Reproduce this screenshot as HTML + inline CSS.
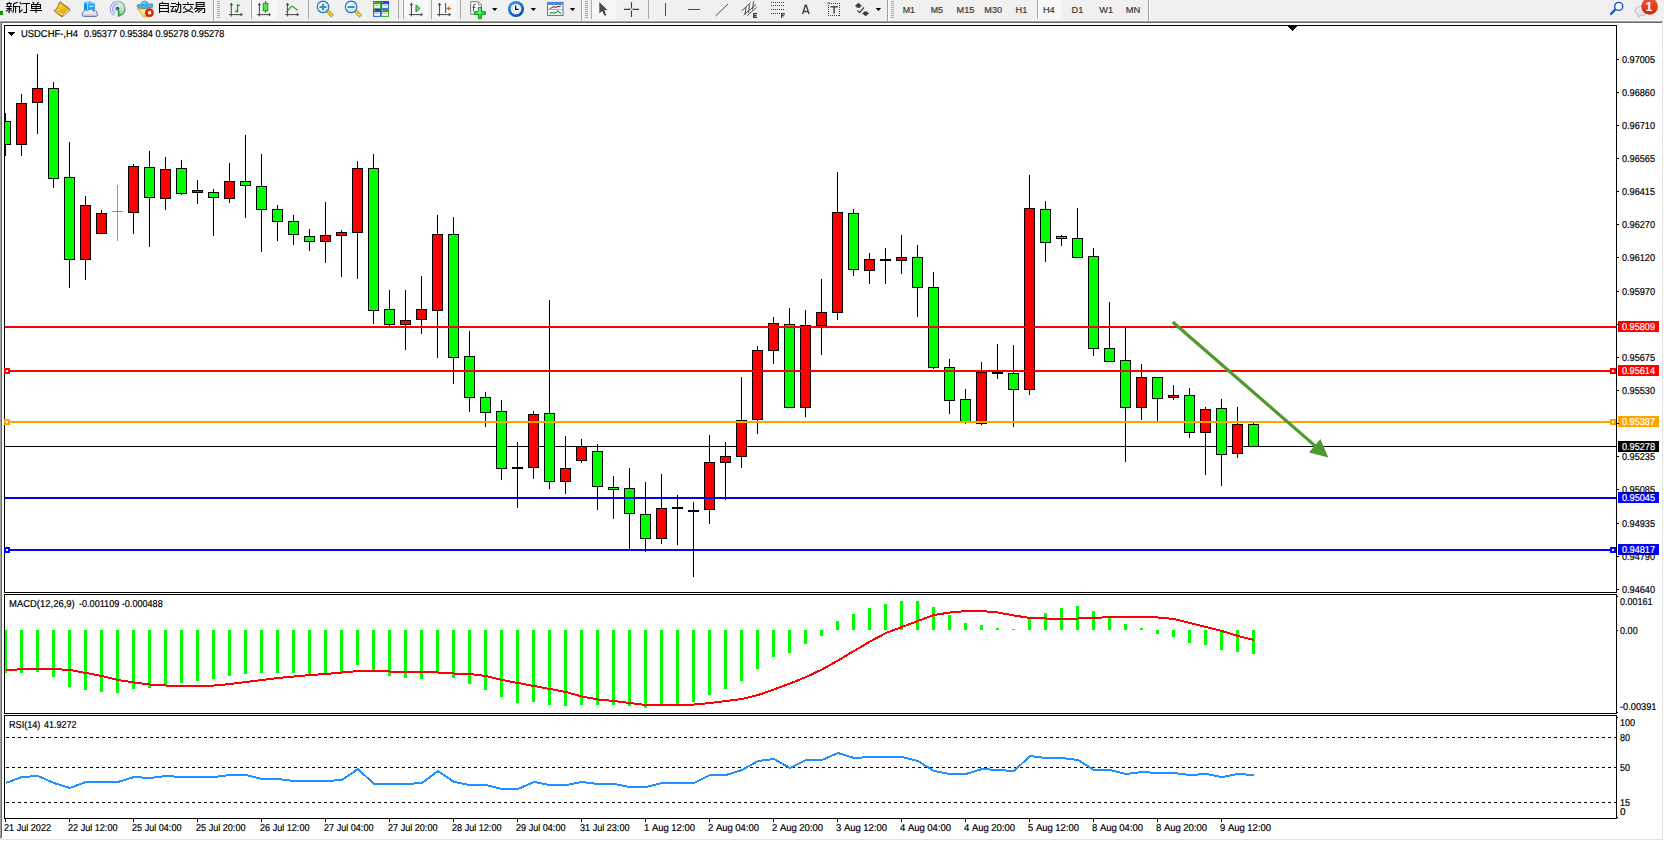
<!DOCTYPE html>
<html><head><meta charset="utf-8"><title>chart</title>
<style>
html,body{margin:0;padding:0;background:#fff;}
body{width:1664px;height:841px;position:relative;overflow:hidden;font-family:"Liberation Sans",sans-serif;}
.t{position:absolute;white-space:nowrap;line-height:13px;height:13px;transform-origin:0 0;text-rendering:geometricPrecision;-webkit-text-stroke:0.2px;}
svg{position:absolute;left:0;top:0;}
</style></head><body>
<svg width="1664" height="841" viewBox="0 0 1664 841" shape-rendering="crispEdges">
<defs><clipPath id="cm"><rect x="5" y="26" width="1611" height="566"/></clipPath></defs>
<rect x="0" y="0" width="1664" height="20" fill="#f0f0f0"/>
<rect x="0" y="20" width="1664" height="1" fill="#f6f6f6"/>
<rect x="0" y="21" width="1663" height="1" fill="#a0a0a0"/>
<rect x="0" y="22" width="1662" height="1" fill="#696969"/>
<rect x="0" y="22" width="1" height="817" fill="#a0a0a0"/>
<rect x="1" y="22" width="1" height="816" fill="#696969"/>
<rect x="1662" y="23" width="1" height="817" fill="#e3e3e3"/>
<rect x="1" y="839" width="1662" height="1" fill="#e3e3e3"/>
<rect x="4" y="25" width="1613" height="1" fill="#000"/>
<rect x="4" y="592" width="1613" height="1" fill="#000"/>
<rect x="4" y="25" width="1" height="568" fill="#000"/>
<rect x="1616" y="25" width="1" height="568" fill="#000"/>
<rect x="4" y="594" width="1613" height="1" fill="#000"/>
<rect x="4" y="713" width="1613" height="1" fill="#000"/>
<rect x="4" y="594" width="1" height="120" fill="#000"/>
<rect x="1616" y="594" width="1" height="120" fill="#000"/>
<rect x="4" y="715" width="1613" height="1" fill="#000"/>
<rect x="4" y="818" width="1613" height="1" fill="#000"/>
<rect x="4" y="715" width="1" height="104" fill="#000"/>
<rect x="1616" y="715" width="1" height="104" fill="#000"/>
<rect x="5" y="446" width="1611" height="1" fill="#000"/>
<rect x="1288" y="26" width="9" height="1" fill="#000"/>
<rect x="1289" y="27" width="7" height="1" fill="#000"/>
<rect x="1290" y="28" width="5" height="1" fill="#000"/>
<rect x="1291" y="29" width="3" height="1" fill="#000"/>
<rect x="1292" y="30" width="1" height="1" fill="#000"/>
<g clip-path="url(#cm)">
<rect x="5" y="113" width="1" height="43" fill="#000"/>
<rect x="0" y="121" width="11" height="24" fill="#000"/>
<rect x="1" y="122" width="9" height="22" fill="#00ff00"/>
<rect x="21" y="94" width="1" height="62" fill="#000"/>
<rect x="16" y="103" width="11" height="42" fill="#000"/>
<rect x="17" y="104" width="9" height="40" fill="#ff0000"/>
<rect x="37" y="54" width="1" height="80" fill="#000"/>
<rect x="32" y="88" width="11" height="15" fill="#000"/>
<rect x="33" y="89" width="9" height="13" fill="#ff0000"/>
<rect x="53" y="82" width="1" height="106" fill="#000"/>
<rect x="48" y="88" width="11" height="91" fill="#000"/>
<rect x="49" y="89" width="9" height="89" fill="#00ff00"/>
<rect x="69" y="142" width="1" height="146" fill="#000"/>
<rect x="64" y="177" width="11" height="83" fill="#000"/>
<rect x="65" y="178" width="9" height="81" fill="#00ff00"/>
<rect x="85" y="196" width="1" height="84" fill="#000"/>
<rect x="80" y="205" width="11" height="55" fill="#000"/>
<rect x="81" y="206" width="9" height="53" fill="#ff0000"/>
<rect x="101" y="210" width="1" height="24" fill="#000"/>
<rect x="96" y="213" width="11" height="21" fill="#000"/>
<rect x="97" y="214" width="9" height="19" fill="#ff0000"/>
<rect x="117" y="185" width="1" height="56" fill="#00ff00"/>
<rect x="112" y="211" width="11" height="1" fill="#00ff00"/>
<rect x="133" y="164" width="1" height="70" fill="#000"/>
<rect x="128" y="166" width="11" height="47" fill="#000"/>
<rect x="129" y="167" width="9" height="45" fill="#ff0000"/>
<rect x="149" y="151" width="1" height="96" fill="#000"/>
<rect x="144" y="167" width="11" height="31" fill="#000"/>
<rect x="145" y="168" width="9" height="29" fill="#00ff00"/>
<rect x="165" y="157" width="1" height="53" fill="#000"/>
<rect x="160" y="169" width="11" height="30" fill="#000"/>
<rect x="161" y="170" width="9" height="28" fill="#ff0000"/>
<rect x="181" y="160" width="1" height="35" fill="#000"/>
<rect x="176" y="168" width="11" height="26" fill="#000"/>
<rect x="177" y="169" width="9" height="24" fill="#00ff00"/>
<rect x="197" y="180" width="1" height="24" fill="#000"/>
<rect x="192" y="190" width="11" height="3" fill="#000"/>
<rect x="193" y="191" width="9" height="1" fill="#ff0000"/>
<rect x="213" y="189" width="1" height="47" fill="#000"/>
<rect x="208" y="192" width="11" height="6" fill="#000"/>
<rect x="209" y="193" width="9" height="4" fill="#00ff00"/>
<rect x="229" y="163" width="1" height="40" fill="#000"/>
<rect x="224" y="181" width="11" height="18" fill="#000"/>
<rect x="225" y="182" width="9" height="16" fill="#ff0000"/>
<rect x="245" y="135" width="1" height="83" fill="#000"/>
<rect x="240" y="181" width="11" height="5" fill="#000"/>
<rect x="241" y="182" width="9" height="3" fill="#00ff00"/>
<rect x="261" y="154" width="1" height="98" fill="#000"/>
<rect x="256" y="186" width="11" height="24" fill="#000"/>
<rect x="257" y="187" width="9" height="22" fill="#00ff00"/>
<rect x="277" y="205" width="1" height="36" fill="#000"/>
<rect x="272" y="209" width="11" height="13" fill="#000"/>
<rect x="273" y="210" width="9" height="11" fill="#00ff00"/>
<rect x="293" y="215" width="1" height="30" fill="#000"/>
<rect x="288" y="221" width="11" height="14" fill="#000"/>
<rect x="289" y="222" width="9" height="12" fill="#00ff00"/>
<rect x="309" y="229" width="1" height="22" fill="#000"/>
<rect x="304" y="236" width="11" height="6" fill="#000"/>
<rect x="305" y="237" width="9" height="4" fill="#00ff00"/>
<rect x="325" y="202" width="1" height="61" fill="#000"/>
<rect x="320" y="235" width="11" height="7" fill="#000"/>
<rect x="321" y="236" width="9" height="5" fill="#ff0000"/>
<rect x="341" y="230" width="1" height="47" fill="#000"/>
<rect x="336" y="232" width="11" height="4" fill="#000"/>
<rect x="337" y="233" width="9" height="2" fill="#ff0000"/>
<rect x="357" y="161" width="1" height="118" fill="#000"/>
<rect x="352" y="168" width="11" height="65" fill="#000"/>
<rect x="353" y="169" width="9" height="63" fill="#ff0000"/>
<rect x="373" y="154" width="1" height="170" fill="#000"/>
<rect x="368" y="168" width="11" height="143" fill="#000"/>
<rect x="369" y="169" width="9" height="141" fill="#00ff00"/>
<rect x="389" y="290" width="1" height="36" fill="#000"/>
<rect x="384" y="309" width="11" height="16" fill="#000"/>
<rect x="385" y="310" width="9" height="14" fill="#00ff00"/>
<rect x="405" y="290" width="1" height="60" fill="#000"/>
<rect x="400" y="320" width="11" height="5" fill="#000"/>
<rect x="401" y="321" width="9" height="3" fill="#ff0000"/>
<rect x="421" y="276" width="1" height="58" fill="#000"/>
<rect x="416" y="309" width="11" height="11" fill="#000"/>
<rect x="417" y="310" width="9" height="9" fill="#ff0000"/>
<rect x="437" y="215" width="1" height="143" fill="#000"/>
<rect x="432" y="234" width="11" height="77" fill="#000"/>
<rect x="433" y="235" width="9" height="75" fill="#ff0000"/>
<rect x="453" y="217" width="1" height="167" fill="#000"/>
<rect x="448" y="234" width="11" height="124" fill="#000"/>
<rect x="449" y="235" width="9" height="122" fill="#00ff00"/>
<rect x="469" y="331" width="1" height="81" fill="#000"/>
<rect x="464" y="356" width="11" height="42" fill="#000"/>
<rect x="465" y="357" width="9" height="40" fill="#00ff00"/>
<rect x="485" y="392" width="1" height="35" fill="#000"/>
<rect x="480" y="397" width="11" height="16" fill="#000"/>
<rect x="481" y="398" width="9" height="14" fill="#00ff00"/>
<rect x="501" y="400" width="1" height="80" fill="#000"/>
<rect x="496" y="411" width="11" height="58" fill="#000"/>
<rect x="497" y="412" width="9" height="56" fill="#00ff00"/>
<rect x="517" y="442" width="1" height="66" fill="#000"/>
<rect x="512" y="467" width="11" height="2" fill="#000"/>
<rect x="533" y="411" width="1" height="68" fill="#000"/>
<rect x="528" y="414" width="11" height="54" fill="#000"/>
<rect x="529" y="415" width="9" height="52" fill="#ff0000"/>
<rect x="549" y="300" width="1" height="189" fill="#000"/>
<rect x="544" y="413" width="11" height="69" fill="#000"/>
<rect x="545" y="414" width="9" height="67" fill="#00ff00"/>
<rect x="565" y="436" width="1" height="58" fill="#000"/>
<rect x="560" y="468" width="11" height="14" fill="#000"/>
<rect x="561" y="469" width="9" height="12" fill="#ff0000"/>
<rect x="581" y="439" width="1" height="24" fill="#000"/>
<rect x="576" y="446" width="11" height="15" fill="#000"/>
<rect x="577" y="447" width="9" height="13" fill="#ff0000"/>
<rect x="597" y="444" width="1" height="66" fill="#000"/>
<rect x="592" y="451" width="11" height="36" fill="#000"/>
<rect x="593" y="452" width="9" height="34" fill="#00ff00"/>
<rect x="613" y="476" width="1" height="43" fill="#000"/>
<rect x="608" y="487" width="11" height="3" fill="#000"/>
<rect x="609" y="488" width="9" height="1" fill="#00ff00"/>
<rect x="629" y="468" width="1" height="82" fill="#000"/>
<rect x="624" y="488" width="11" height="26" fill="#000"/>
<rect x="625" y="489" width="9" height="24" fill="#00ff00"/>
<rect x="645" y="482" width="1" height="70" fill="#000"/>
<rect x="640" y="514" width="11" height="25" fill="#000"/>
<rect x="641" y="515" width="9" height="23" fill="#00ff00"/>
<rect x="661" y="474" width="1" height="70" fill="#000"/>
<rect x="656" y="508" width="11" height="31" fill="#000"/>
<rect x="657" y="509" width="9" height="29" fill="#ff0000"/>
<rect x="677" y="495" width="1" height="50" fill="#000"/>
<rect x="672" y="507" width="11" height="2" fill="#000"/>
<rect x="693" y="502" width="1" height="75" fill="#000"/>
<rect x="688" y="510" width="11" height="2" fill="#000"/>
<rect x="709" y="435" width="1" height="89" fill="#000"/>
<rect x="704" y="462" width="11" height="48" fill="#000"/>
<rect x="705" y="463" width="9" height="46" fill="#ff0000"/>
<rect x="725" y="442" width="1" height="58" fill="#000"/>
<rect x="720" y="456" width="11" height="7" fill="#000"/>
<rect x="721" y="457" width="9" height="5" fill="#ff0000"/>
<rect x="741" y="377" width="1" height="91" fill="#000"/>
<rect x="736" y="420" width="11" height="37" fill="#000"/>
<rect x="737" y="421" width="9" height="35" fill="#ff0000"/>
<rect x="757" y="346" width="1" height="88" fill="#000"/>
<rect x="752" y="350" width="11" height="70" fill="#000"/>
<rect x="753" y="351" width="9" height="68" fill="#ff0000"/>
<rect x="773" y="317" width="1" height="47" fill="#000"/>
<rect x="768" y="323" width="11" height="28" fill="#000"/>
<rect x="769" y="324" width="9" height="26" fill="#ff0000"/>
<rect x="789" y="308" width="1" height="100" fill="#000"/>
<rect x="784" y="324" width="11" height="84" fill="#000"/>
<rect x="785" y="325" width="9" height="82" fill="#00ff00"/>
<rect x="805" y="310" width="1" height="107" fill="#000"/>
<rect x="800" y="325" width="11" height="83" fill="#000"/>
<rect x="801" y="326" width="9" height="81" fill="#ff0000"/>
<rect x="821" y="279" width="1" height="76" fill="#000"/>
<rect x="816" y="312" width="11" height="14" fill="#000"/>
<rect x="817" y="313" width="9" height="12" fill="#ff0000"/>
<rect x="837" y="172" width="1" height="148" fill="#000"/>
<rect x="832" y="212" width="11" height="101" fill="#000"/>
<rect x="833" y="213" width="9" height="99" fill="#ff0000"/>
<rect x="853" y="209" width="1" height="67" fill="#000"/>
<rect x="848" y="213" width="11" height="57" fill="#000"/>
<rect x="849" y="214" width="9" height="55" fill="#00ff00"/>
<rect x="869" y="253" width="1" height="31" fill="#000"/>
<rect x="864" y="259" width="11" height="12" fill="#000"/>
<rect x="865" y="260" width="9" height="10" fill="#ff0000"/>
<rect x="885" y="248" width="1" height="36" fill="#000"/>
<rect x="880" y="259" width="11" height="2" fill="#000"/>
<rect x="901" y="235" width="1" height="39" fill="#000"/>
<rect x="896" y="257" width="11" height="4" fill="#000"/>
<rect x="897" y="258" width="9" height="2" fill="#ff0000"/>
<rect x="917" y="245" width="1" height="72" fill="#000"/>
<rect x="912" y="257" width="11" height="31" fill="#000"/>
<rect x="913" y="258" width="9" height="29" fill="#00ff00"/>
<rect x="933" y="272" width="1" height="97" fill="#000"/>
<rect x="928" y="287" width="11" height="81" fill="#000"/>
<rect x="929" y="288" width="9" height="79" fill="#00ff00"/>
<rect x="949" y="359" width="1" height="55" fill="#000"/>
<rect x="944" y="367" width="11" height="34" fill="#000"/>
<rect x="945" y="368" width="9" height="32" fill="#00ff00"/>
<rect x="965" y="389" width="1" height="35" fill="#000"/>
<rect x="960" y="399" width="11" height="23" fill="#000"/>
<rect x="961" y="400" width="9" height="21" fill="#00ff00"/>
<rect x="981" y="362" width="1" height="63" fill="#000"/>
<rect x="976" y="372" width="11" height="52" fill="#000"/>
<rect x="977" y="373" width="9" height="50" fill="#ff0000"/>
<rect x="997" y="344" width="1" height="35" fill="#000"/>
<rect x="992" y="372" width="11" height="2" fill="#000"/>
<rect x="1013" y="345" width="1" height="82" fill="#000"/>
<rect x="1008" y="373" width="11" height="17" fill="#000"/>
<rect x="1009" y="374" width="9" height="15" fill="#00ff00"/>
<rect x="1029" y="175" width="1" height="220" fill="#000"/>
<rect x="1024" y="208" width="11" height="182" fill="#000"/>
<rect x="1025" y="209" width="9" height="180" fill="#ff0000"/>
<rect x="1045" y="201" width="1" height="61" fill="#000"/>
<rect x="1040" y="209" width="11" height="34" fill="#000"/>
<rect x="1041" y="210" width="9" height="32" fill="#00ff00"/>
<rect x="1061" y="235" width="1" height="11" fill="#000"/>
<rect x="1056" y="236" width="11" height="3" fill="#000"/>
<rect x="1057" y="237" width="9" height="1" fill="#00ff00"/>
<rect x="1077" y="208" width="1" height="50" fill="#000"/>
<rect x="1072" y="238" width="11" height="20" fill="#000"/>
<rect x="1073" y="239" width="9" height="18" fill="#00ff00"/>
<rect x="1093" y="248" width="1" height="108" fill="#000"/>
<rect x="1088" y="256" width="11" height="93" fill="#000"/>
<rect x="1089" y="257" width="9" height="91" fill="#00ff00"/>
<rect x="1109" y="302" width="1" height="60" fill="#000"/>
<rect x="1104" y="348" width="11" height="14" fill="#000"/>
<rect x="1105" y="349" width="9" height="12" fill="#00ff00"/>
<rect x="1125" y="328" width="1" height="134" fill="#000"/>
<rect x="1120" y="360" width="11" height="48" fill="#000"/>
<rect x="1121" y="361" width="9" height="46" fill="#00ff00"/>
<rect x="1141" y="364" width="1" height="56" fill="#000"/>
<rect x="1136" y="377" width="11" height="31" fill="#000"/>
<rect x="1137" y="378" width="9" height="29" fill="#ff0000"/>
<rect x="1157" y="377" width="1" height="44" fill="#000"/>
<rect x="1152" y="377" width="11" height="22" fill="#000"/>
<rect x="1153" y="378" width="9" height="20" fill="#00ff00"/>
<rect x="1173" y="385" width="1" height="15" fill="#000"/>
<rect x="1168" y="395" width="11" height="3" fill="#000"/>
<rect x="1169" y="396" width="9" height="1" fill="#ff0000"/>
<rect x="1189" y="388" width="1" height="50" fill="#000"/>
<rect x="1184" y="395" width="11" height="38" fill="#000"/>
<rect x="1185" y="396" width="9" height="36" fill="#00ff00"/>
<rect x="1205" y="407" width="1" height="68" fill="#000"/>
<rect x="1200" y="409" width="11" height="24" fill="#000"/>
<rect x="1201" y="410" width="9" height="22" fill="#ff0000"/>
<rect x="1221" y="399" width="1" height="87" fill="#000"/>
<rect x="1216" y="408" width="11" height="47" fill="#000"/>
<rect x="1217" y="409" width="9" height="45" fill="#00ff00"/>
<rect x="1237" y="407" width="1" height="51" fill="#000"/>
<rect x="1232" y="424" width="11" height="30" fill="#000"/>
<rect x="1233" y="425" width="9" height="28" fill="#ff0000"/>
<rect x="1253" y="423" width="1" height="23" fill="#000"/>
<rect x="1248" y="424" width="11" height="23" fill="#000"/>
<rect x="1249" y="425" width="9" height="21" fill="#00ff00"/>
</g>
<rect x="5" y="326" width="1611" height="2" fill="#ff0000"/>
<rect x="1618" y="321" width="41" height="11" fill="#ff0000"/>
<rect x="5" y="370" width="1611" height="2" fill="#ff0000"/>
<rect x="1618" y="365" width="41" height="11" fill="#ff0000"/>
<rect x="4" y="368" width="6" height="6" fill="#ff0000"/>
<rect x="6" y="370" width="2" height="2" fill="#fff"/>
<rect x="1610" y="368" width="6" height="6" fill="#ff0000"/>
<rect x="1612" y="370" width="2" height="2" fill="#fff"/>
<rect x="5" y="421" width="1611" height="2" fill="#ffa500"/>
<rect x="1618" y="416" width="41" height="11" fill="#ffa500"/>
<rect x="4" y="419" width="6" height="6" fill="#ffa500"/>
<rect x="6" y="421" width="2" height="2" fill="#fff"/>
<rect x="1610" y="419" width="6" height="6" fill="#ffa500"/>
<rect x="1612" y="421" width="2" height="2" fill="#fff"/>
<rect x="5" y="497" width="1611" height="2" fill="#0000ff"/>
<rect x="1618" y="492" width="41" height="11" fill="#0000ff"/>
<rect x="5" y="549" width="1611" height="2" fill="#0000ff"/>
<rect x="1618" y="544" width="41" height="11" fill="#0000ff"/>
<rect x="4" y="547" width="6" height="6" fill="#0000ff"/>
<rect x="6" y="549" width="2" height="2" fill="#fff"/>
<rect x="1610" y="547" width="6" height="6" fill="#0000ff"/>
<rect x="1612" y="549" width="2" height="2" fill="#fff"/>
<rect x="1617" y="59" width="2" height="1" fill="#000"/>
<rect x="1617" y="92" width="2" height="1" fill="#000"/>
<rect x="1617" y="125" width="2" height="1" fill="#000"/>
<rect x="1617" y="158" width="2" height="1" fill="#000"/>
<rect x="1617" y="191" width="2" height="1" fill="#000"/>
<rect x="1617" y="224" width="2" height="1" fill="#000"/>
<rect x="1617" y="257" width="2" height="1" fill="#000"/>
<rect x="1617" y="291" width="2" height="1" fill="#000"/>
<rect x="1617" y="324" width="2" height="1" fill="#000"/>
<rect x="1617" y="357" width="2" height="1" fill="#000"/>
<rect x="1617" y="390" width="2" height="1" fill="#000"/>
<rect x="1617" y="423" width="2" height="1" fill="#000"/>
<rect x="1617" y="456" width="2" height="1" fill="#000"/>
<rect x="1617" y="489" width="2" height="1" fill="#000"/>
<rect x="1617" y="523" width="2" height="1" fill="#000"/>
<rect x="1617" y="556" width="2" height="1" fill="#000"/>
<rect x="1617" y="589" width="2" height="1" fill="#000"/>
<rect x="1617" y="596" width="1" height="1" fill="#000"/>
<rect x="1617" y="630" width="1" height="1" fill="#000"/>
<rect x="1617" y="712" width="1" height="1" fill="#000"/>
<rect x="1617" y="717" width="1" height="1" fill="#000"/>
<rect x="1617" y="817" width="1" height="1" fill="#000"/>
<path d="M6 737.5 H1616" stroke="#000" stroke-width="1" stroke-dasharray="3 3" fill="none"/>
<path d="M6 767.5 H1616" stroke="#000" stroke-width="1" stroke-dasharray="3 3" fill="none"/>
<path d="M6 802.5 H1616" stroke="#000" stroke-width="1" stroke-dasharray="3 3" fill="none"/>
<rect x="5" y="630" width="2" height="43" fill="#00ff00"/>
<rect x="20" y="630" width="3" height="43" fill="#00ff00"/>
<rect x="36" y="630" width="3" height="42" fill="#00ff00"/>
<rect x="52" y="630" width="3" height="47" fill="#00ff00"/>
<rect x="68" y="630" width="3" height="57" fill="#00ff00"/>
<rect x="84" y="630" width="3" height="60" fill="#00ff00"/>
<rect x="100" y="630" width="3" height="62" fill="#00ff00"/>
<rect x="116" y="630" width="3" height="63" fill="#00ff00"/>
<rect x="132" y="630" width="3" height="59" fill="#00ff00"/>
<rect x="148" y="630" width="3" height="58" fill="#00ff00"/>
<rect x="164" y="630" width="3" height="56" fill="#00ff00"/>
<rect x="180" y="630" width="3" height="53" fill="#00ff00"/>
<rect x="196" y="630" width="3" height="51" fill="#00ff00"/>
<rect x="212" y="630" width="3" height="49" fill="#00ff00"/>
<rect x="228" y="630" width="3" height="46" fill="#00ff00"/>
<rect x="244" y="630" width="3" height="44" fill="#00ff00"/>
<rect x="260" y="630" width="3" height="43" fill="#00ff00"/>
<rect x="276" y="630" width="3" height="43" fill="#00ff00"/>
<rect x="292" y="630" width="3" height="43" fill="#00ff00"/>
<rect x="308" y="630" width="3" height="44" fill="#00ff00"/>
<rect x="324" y="630" width="3" height="44" fill="#00ff00"/>
<rect x="340" y="630" width="3" height="43" fill="#00ff00"/>
<rect x="356" y="630" width="3" height="35" fill="#00ff00"/>
<rect x="372" y="630" width="3" height="41" fill="#00ff00"/>
<rect x="388" y="630" width="3" height="46" fill="#00ff00"/>
<rect x="404" y="630" width="3" height="48" fill="#00ff00"/>
<rect x="420" y="630" width="3" height="49" fill="#00ff00"/>
<rect x="436" y="630" width="3" height="43" fill="#00ff00"/>
<rect x="452" y="630" width="3" height="48" fill="#00ff00"/>
<rect x="468" y="630" width="3" height="54" fill="#00ff00"/>
<rect x="484" y="630" width="3" height="60" fill="#00ff00"/>
<rect x="500" y="630" width="3" height="67" fill="#00ff00"/>
<rect x="516" y="630" width="3" height="73" fill="#00ff00"/>
<rect x="532" y="630" width="3" height="72" fill="#00ff00"/>
<rect x="548" y="630" width="3" height="75" fill="#00ff00"/>
<rect x="564" y="630" width="3" height="76" fill="#00ff00"/>
<rect x="580" y="630" width="3" height="75" fill="#00ff00"/>
<rect x="596" y="630" width="3" height="75" fill="#00ff00"/>
<rect x="612" y="630" width="3" height="75" fill="#00ff00"/>
<rect x="628" y="630" width="3" height="76" fill="#00ff00"/>
<rect x="644" y="630" width="3" height="78" fill="#00ff00"/>
<rect x="660" y="630" width="3" height="75" fill="#00ff00"/>
<rect x="676" y="630" width="3" height="75" fill="#00ff00"/>
<rect x="692" y="630" width="3" height="72" fill="#00ff00"/>
<rect x="708" y="630" width="3" height="65" fill="#00ff00"/>
<rect x="724" y="630" width="3" height="59" fill="#00ff00"/>
<rect x="740" y="630" width="3" height="51" fill="#00ff00"/>
<rect x="756" y="630" width="3" height="39" fill="#00ff00"/>
<rect x="772" y="630" width="3" height="27" fill="#00ff00"/>
<rect x="788" y="630" width="3" height="23" fill="#00ff00"/>
<rect x="804" y="630" width="3" height="14" fill="#00ff00"/>
<rect x="820" y="630" width="3" height="6" fill="#00ff00"/>
<rect x="836" y="621" width="3" height="9" fill="#00ff00"/>
<rect x="852" y="614" width="3" height="16" fill="#00ff00"/>
<rect x="868" y="608" width="3" height="22" fill="#00ff00"/>
<rect x="884" y="604" width="3" height="26" fill="#00ff00"/>
<rect x="900" y="601" width="3" height="29" fill="#00ff00"/>
<rect x="916" y="601" width="3" height="29" fill="#00ff00"/>
<rect x="932" y="607" width="3" height="23" fill="#00ff00"/>
<rect x="948" y="615" width="3" height="15" fill="#00ff00"/>
<rect x="964" y="623" width="3" height="7" fill="#00ff00"/>
<rect x="980" y="625" width="3" height="5" fill="#00ff00"/>
<rect x="996" y="628" width="3" height="2" fill="#00ff00"/>
<rect x="1012" y="629" width="3" height="1" fill="#00ff00"/>
<rect x="1028" y="619" width="3" height="11" fill="#00ff00"/>
<rect x="1044" y="613" width="3" height="17" fill="#00ff00"/>
<rect x="1060" y="608" width="3" height="22" fill="#00ff00"/>
<rect x="1076" y="606" width="3" height="24" fill="#00ff00"/>
<rect x="1092" y="611" width="3" height="19" fill="#00ff00"/>
<rect x="1108" y="616" width="3" height="14" fill="#00ff00"/>
<rect x="1124" y="624" width="3" height="6" fill="#00ff00"/>
<rect x="1140" y="628" width="3" height="2" fill="#00ff00"/>
<rect x="1156" y="630" width="3" height="4" fill="#00ff00"/>
<rect x="1172" y="630" width="3" height="7" fill="#00ff00"/>
<rect x="1188" y="630" width="3" height="13" fill="#00ff00"/>
<rect x="1204" y="630" width="3" height="15" fill="#00ff00"/>
<rect x="1220" y="630" width="3" height="20" fill="#00ff00"/>
<rect x="1236" y="630" width="3" height="22" fill="#00ff00"/>
<rect x="1252" y="630" width="3" height="24" fill="#00ff00"/>
<polyline points="6,670.5 22,669 38,669 54,669 70,670 86,673 102,676 118,680 134,682.5 150,684.5 166,685.5 182,685.5 198,685.5 214,685.5 230,684 246,682 262,680 278,678 294,676.5 310,675 326,674 342,672.5 358,671 374,671 390,671.5 406,672 422,672 438,672.5 454,673.5 470,674 486,676 502,680 518,683 534,686 550,689 566,692 582,696.5 598,699.5 614,701 630,703 646,705 662,705 678,705 694,704.5 710,703 726,701 742,699 758,695 774,689.5 790,683.5 806,677 822,669.5 838,660.5 854,651 870,641.5 886,633 902,627 918,621 934,615 950,612.5 966,611 982,611 998,612.5 1014,615.5 1030,618 1046,618.5 1062,619 1078,618.5 1094,618 1110,617 1126,617 1142,617 1158,617.5 1174,619 1190,623 1206,627 1222,631 1238,636 1254,640" stroke="#ff0000" stroke-width="2" fill="none"/>
<polyline points="6,783 22,777 38,776 54,783 70,788 86,782 102,782 118,782 134,777 150,778 166,776 182,777 198,777 214,777 230,775 246,775 262,779 278,779 294,781 310,781 326,781 342,780 358,769 374,784 390,784 406,784 422,783 438,771 454,782 470,785 486,785 502,789 518,789 534,782 550,785 566,785 582,782 598,784 614,784 630,787 646,787 662,783 678,783 694,783 710,775 726,775 742,770 758,761 774,759 790,768 806,760 822,760 838,753 854,758 870,757 886,757 902,757 918,761 934,771 950,774 966,774 982,769 998,770 1014,771 1030,756 1046,758 1062,758 1078,760 1094,770 1110,770 1126,774 1142,772 1158,773 1174,773 1190,775 1206,774 1222,777 1238,774 1254,775" stroke="#1e90ff" stroke-width="2" fill="none"/>
<rect x="5" y="819" width="1" height="3" fill="#000"/>
<rect x="69" y="819" width="1" height="3" fill="#000"/>
<rect x="133" y="819" width="1" height="3" fill="#000"/>
<rect x="197" y="819" width="1" height="3" fill="#000"/>
<rect x="261" y="819" width="1" height="3" fill="#000"/>
<rect x="325" y="819" width="1" height="3" fill="#000"/>
<rect x="389" y="819" width="1" height="3" fill="#000"/>
<rect x="453" y="819" width="1" height="3" fill="#000"/>
<rect x="517" y="819" width="1" height="3" fill="#000"/>
<rect x="581" y="819" width="1" height="3" fill="#000"/>
<rect x="645" y="819" width="1" height="3" fill="#000"/>
<rect x="709" y="819" width="1" height="3" fill="#000"/>
<rect x="773" y="819" width="1" height="3" fill="#000"/>
<rect x="837" y="819" width="1" height="3" fill="#000"/>
<rect x="901" y="819" width="1" height="3" fill="#000"/>
<rect x="965" y="819" width="1" height="3" fill="#000"/>
<rect x="1029" y="819" width="1" height="3" fill="#000"/>
<rect x="1093" y="819" width="1" height="3" fill="#000"/>
<rect x="1157" y="819" width="1" height="3" fill="#000"/>
<rect x="1221" y="819" width="1" height="3" fill="#000"/>
<rect x="1618" y="441" width="41" height="11" fill="#000"/>
<rect x="8" y="32" width="7" height="1" fill="#000"/>
<rect x="9" y="33" width="5" height="1" fill="#000"/>
<rect x="10" y="34" width="3" height="1" fill="#000"/>
<rect x="11" y="35" width="1" height="1" fill="#000"/>
<g shape-rendering="geometricPrecision"><line x1="1172.7" y1="322" x2="1316" y2="446.6" stroke="#4e9a2f" stroke-width="3.2"/><polygon points="1328.3,457.4 1320.4,439 1309,452.6" fill="#4e9a2f"/></g>
<defs>
<pattern id="chk" width="2" height="2" patternUnits="userSpaceOnUse"><rect width="2" height="2" fill="#f0f0f0"/><rect width="1" height="1" fill="#fff"/><rect x="1" y="1" width="1" height="1" fill="#fff"/></pattern>
<linearGradient id="gold" x1="0" y1="0" x2="1" y2="1"><stop offset="0" stop-color="#f8e27a"/><stop offset="0.5" stop-color="#e9b62e"/><stop offset="1" stop-color="#b07a10"/></linearGradient>
<linearGradient id="blu" x1="0" y1="0" x2="0" y2="1"><stop offset="0" stop-color="#49b4f8"/><stop offset="1" stop-color="#1670d8"/></linearGradient>
<radialGradient id="lens" cx="0.4" cy="0.35" r="0.7"><stop offset="0" stop-color="#f0fbff"/><stop offset="1" stop-color="#bce6f6"/></radialGradient>
<linearGradient id="redb" x1="0" y1="0" x2="0" y2="1"><stop offset="0" stop-color="#ea5a3a"/><stop offset="1" stop-color="#d8200c"/></linearGradient>
<linearGradient id="grn" x1="0" y1="0" x2="0" y2="1"><stop offset="0" stop-color="#5fd04a"/><stop offset="1" stop-color="#1e9a1e"/></linearGradient>
<linearGradient id="blb" x1="0" y1="0" x2="0" y2="1"><stop offset="0" stop-color="#1b3fc0"/><stop offset="1" stop-color="#3f74e8"/></linearGradient>
<linearGradient id="grb" x1="0" y1="0" x2="0" y2="1"><stop offset="0" stop-color="#2f9a16"/><stop offset="1" stop-color="#4fb82a"/></linearGradient>
<linearGradient id="gold2" x1="0.2" y1="0" x2="0.8" y2="1"><stop offset="0" stop-color="#fbe04a"/><stop offset="0.6" stop-color="#ecb822"/><stop offset="1" stop-color="#e0a418"/></linearGradient>
<linearGradient id="cloud" x1="0" y1="0" x2="0" y2="1"><stop offset="0" stop-color="#ffffff"/><stop offset="1" stop-color="#c4ccde"/></linearGradient>
<linearGradient id="sig" x1="0" y1="0" x2="0.3" y2="1"><stop offset="0" stop-color="#e6eee4"/><stop offset="0.55" stop-color="#b4d6ae"/><stop offset="1" stop-color="#4aa84a"/></linearGradient>
<linearGradient id="gold3" x1="0" y1="0" x2="1" y2="0.6"><stop offset="0" stop-color="#f2c83a"/><stop offset="0.5" stop-color="#fbe880"/><stop offset="1" stop-color="#e8b020"/></linearGradient>
<linearGradient id="clk" x1="0.2" y1="0" x2="0.8" y2="1"><stop offset="0" stop-color="#4a9cf4"/><stop offset="0.5" stop-color="#1a6cd4"/><stop offset="1" stop-color="#0a44a0"/></linearGradient>
<radialGradient id="plus" cx="0.4" cy="0.3" r="0.8"><stop offset="0" stop-color="#8cffa0"/><stop offset="0.5" stop-color="#10f038"/><stop offset="1" stop-color="#08c020"/></radialGradient>
</defs>
<g shape-rendering="geometricPrecision">
<rect x="0" y="11" width="3" height="4" fill="#0c9a0c"/><rect x="0" y="11" width="3" height="0.8" fill="#0a7a0a"/>
<g stroke="#000" stroke-width="1.05" fill="none" stroke-linecap="butt">
<path d="M8.9 1.9 L9.7 3.2"/>
<path d="M6.2 3.5 H11.8"/>
<path d="M7.2 4.2 L7.8 5.9"/>
<path d="M11 4.2 L10.4 5.9"/>
<path d="M5.9 6.5 H12.3"/>
<path d="M6.4 8.5 H11.8"/>
<path d="M9.2 6.5 V12.5 L8.3 12.1"/>
<path d="M8.6 9.3 L6.1 11.4"/>
<path d="M9.9 9.3 L11.7 11.1"/>
<path d="M17.6 2.3 L13.6 3.7"/>
<path d="M13.6 3.5 V9 Q13.5 11.4 12.7 12.7"/>
<path d="M13.6 6.5 H18.5"/>
<path d="M15.6 6.5 V12.7"/>
<path d="M19.7 2.1 L21.5 4.4"/>
<path d="M18.5 6.5 H19.6 V12.2 L22.5 9.6"/>
<path d="M22.3 3.5 H30"/>
<path d="M26.5 3.5 V12.5 H23.3"/>
<path d="M32.6 1.9 L34.1 4"/>
<path d="M38.7 1.9 L37.2 4"/>
<path d="M31.6 4.5 H40.5 V8.5 H31.6 Z"/>
<path d="M31.6 6.5 H40.5"/>
<path d="M36.1 4.5 V13.1"/>
<path d="M30.2 10.5 H42"/>
<path d="M162.9 1.8 L162.2 3.1"/>
<path d="M159.5 3.5 H168.3 V12.9 M159.5 3.5 V12.9"/>
<path d="M159.5 5.5 H168.3"/>
<path d="M159.5 8.5 H168.3"/>
<path d="M159.5 11.5 H168.3"/>
<path d="M171 3.5 H176"/>
<path d="M170.2 6.5 H177.2"/>
<path d="M173.8 6.5 L171.3 11.5 L176 10.9"/>
<path d="M175.3 8.6 L176.7 11.9"/>
<path d="M176 4.5 H180.7 V12.4 L178.5 12.4"/>
<path d="M178.5 1.8 V6 Q178.3 10 175.9 12.6"/>
<path d="M187.8 2 V3.8"/>
<path d="M182.6 4.5 H193.8"/>
<path d="M185.4 5.9 L183.1 8.5"/>
<path d="M190.4 5.9 L192.7 8.5"/>
<path d="M191.3 8.3 Q189 11 182.8 12.6"/>
<path d="M184.8 8.3 Q187.5 11 193.3 12.6"/>
<path d="M196.3 2.5 H204.1 V6.5 H196.3 Z"/>
<path d="M196.3 4.5 H204.1"/>
<path d="M196.7 7.3 L194 9.6"/>
<path d="M195.7 8.5 H204.6 V12.4 H202.3"/>
<path d="M199.7 8.7 L195 12"/>
<path d="M202.6 8.7 L197.9 12.6"/>
</g>
<path d="M59.4 2.2 L60.4 2 L69.2 8.4 L70 10.6 L61.9 16.9 L54.1 10.9 Q56.8 8.6 57.6 7 Z" fill="#b98a2a" stroke="#9a6608" stroke-width="0.8" stroke-linejoin="round"/>
<path d="M68.6 9.3 L69.6 10.8 L62.2 16.3 L63.4 13.9 Z" fill="#eadcaa"/>
<path d="M59.7 3 L68.4 9.1 L63.4 13.8 L55.3 10.3 Q57.4 8.6 58.2 7.2 Z" fill="url(#gold2)"/>
<path d="M55.6 10.5 L63.2 13.8 L62.2 15.4 L54.9 11.3 Z" fill="#f3d878"/>
<polygon points="84.1,1.9 90.6,1.3 95,3.4 87.5,4.1" fill="#6cc0fa"/>
<polygon points="84.1,1.9 87.5,4.1 87.5,11 84.1,10" fill="#0b8cf2"/>
<polygon points="87.5,4.1 95,3.4 95,10 87.5,11" fill="#2a9ff8"/>
<path d="M87.5 4.1 V10.6 M84.2 2 L87.5 4.1" stroke="#d8f0ff" stroke-width="0.6" fill="none"/>
<polygon points="89.2,5.9 93.8,5.4 93.8,6.4 89.2,6.9" fill="#eaf6ff"/>
<path d="M84.4 16.4 C81.6 16.4 81.2 12.6 83.6 12 C83.6 9.8 86.6 9.4 87.6 10.8 C88.8 8.6 92.4 8.8 93.2 11.2 C95 10 97.6 11.2 97 13.4 C98.4 14.4 97.6 16.4 95.8 16.4 Z" fill="url(#cloud)" stroke="#45639f" stroke-width="0.9"/>
<circle cx="117.7" cy="8.8" r="7.6" fill="#f3f3ef"/>
<path d="M117.7 0.9 A7.9 7.9 0 0 1 117.7 16.7 Z" fill="url(#sig)"/>
<g fill="none" stroke-width="1.1">
<path d="M117.7 1.4 a7.4 7.4 0 0 0 -3.2 14" stroke="#6f93e0" opacity="0.75"/><path d="M117.7 3.9 a4.9 4.9 0 0 0 -2.4 9.2" stroke="#5f86dc" opacity="0.8"/><path d="M117.7 6.2 a2.6 2.6 0 0 0 -1.4 4.8" stroke="#9ab4ea" opacity="0.7"/>
<path d="M117.7 1.4 a7.4 7.4 0 0 1 3 14.1" stroke="#7fa8a8" opacity="0.8"/><path d="M117.7 3.9 a4.9 4.9 0 0 1 2.4 9.2" stroke="#e8f2e4" opacity="0.9"/><path d="M117.7 6.2 a2.6 2.6 0 0 1 1.6 4.6" stroke="#eef6ea" opacity="0.9"/>
</g><circle cx="117.6" cy="8.6" r="1.8" fill="#2a58d4"/><path d="M118.6 9.2 V16.6" stroke="#22a022" stroke-width="1.3" fill="none"/>
<path d="M137.3 8.2 L152.7 7.4 L146.8 16.9 L143.4 16.6 Z" fill="url(#gold3)" stroke="#cf9a18" stroke-width="0.7" stroke-linejoin="round"/>
<path d="M137 6.2 C137 4.2 139.6 4.4 141 5 C141.2 2.4 142.4 1.2 144.6 1.2 C146.8 1.2 148 2.4 148.4 4.6 C150 3.6 153 3.4 153 5.2 C153 7.4 148.6 8.4 144.8 8.4 C141 8.4 137 7.8 137 6.2 Z" fill="#5ab2ea" stroke="#2484b8" stroke-width="0.8"/>
<path d="M141.6 5.4 Q144.6 6.6 148.2 5" stroke="#2a88c0" stroke-width="0.7" fill="none"/><path d="M142.6 3 Q144 1.8 146 2.4" stroke="#a8dcfa" stroke-width="0.9" fill="none"/>
<circle cx="149.4" cy="12.8" r="4" fill="#e2300e" stroke="#b82206" stroke-width="0.8"/><rect x="148" y="11.3" width="3" height="2.9" fill="#fff"/>
<rect x="213" y="0" width="1" height="21" fill="#a0a0a0" shape-rendering="crispEdges"/><rect x="214" y="0" width="1" height="21" fill="#fff" shape-rendering="crispEdges"/>
<rect x="217" y="1" width="3" height="1" fill="#a6a6a6" shape-rendering="crispEdges"/>
<rect x="217" y="3" width="3" height="1" fill="#a6a6a6" shape-rendering="crispEdges"/>
<rect x="217" y="5" width="3" height="1" fill="#a6a6a6" shape-rendering="crispEdges"/>
<rect x="217" y="7" width="3" height="1" fill="#a6a6a6" shape-rendering="crispEdges"/>
<rect x="217" y="9" width="3" height="1" fill="#a6a6a6" shape-rendering="crispEdges"/>
<rect x="217" y="11" width="3" height="1" fill="#a6a6a6" shape-rendering="crispEdges"/>
<rect x="217" y="13" width="3" height="1" fill="#a6a6a6" shape-rendering="crispEdges"/>
<rect x="217" y="15" width="3" height="1" fill="#a6a6a6" shape-rendering="crispEdges"/>
<rect x="217" y="17" width="3" height="1" fill="#a6a6a6" shape-rendering="crispEdges"/>
<g stroke="#505050" stroke-width="1.1" fill="#505050"><path d="M231.3 4 V16.5" fill="none"/><path d="M228.9 14.6 H241.8" fill="none"/><path d="M231.3 2.6 l-1.8 2.6 h3.6 Z" stroke="none"/><path d="M243.1 14.6 l-2.6 -1.8 v3.6 Z" stroke="none"/></g>
<path d="M237.5 4.3 V12.6 M237.5 5.4 H240 M235 11.4 H237.5" stroke="#159a15" stroke-width="1.3" fill="none"/>
<rect x="251" y="0" width="1" height="19" fill="#a8a8a8" shape-rendering="crispEdges"/>
<rect x="252" y="0" width="25" height="19" fill="url(#chk)" shape-rendering="crispEdges"/>
<g stroke="#505050" stroke-width="1.1" fill="#505050"><path d="M259.4 4 V16.5" fill="none"/><path d="M257 14.6 H269.9" fill="none"/><path d="M259.4 2.6 l-1.8 2.6 h3.6 Z" stroke="none"/><path d="M271.2 14.6 l-2.6 -1.8 v3.6 Z" stroke="none"/></g>
<path d="M265.5 1 V12.8" stroke="#159a15" stroke-width="1.2"/><rect x="263.2" y="3.4" width="4.6" height="7.4" fill="#55e055" stroke="#12a012" stroke-width="1"/>
<g stroke="#505050" stroke-width="1.1" fill="#505050"><path d="M287.5 4 V16.5" fill="none"/><path d="M285.1 14.6 H298" fill="none"/><path d="M287.5 2.6 l-1.8 2.6 h3.6 Z" stroke="none"/><path d="M299.3 14.6 l-2.6 -1.8 v3.6 Z" stroke="none"/></g>
<path d="M286.2 11.8 Q288.8 9.6 290.4 7.6 Q292 5.6 293.4 6.8 Q295.4 8.8 298 10.4" stroke="#2aa02a" stroke-width="1.1" fill="none"/>
<rect x="308" y="0" width="1" height="19" fill="#a8a8a8" shape-rendering="crispEdges"/>
<path d="M326.8 10.4 L332.6 16.3" stroke="#a87a10" stroke-width="3.4" stroke-linecap="butt"/><path d="M327 10.6 L332.3 16" stroke="#f2d84a" stroke-width="1.8" stroke-linecap="butt"/>
<circle cx="323" cy="6.9" r="5.8" fill="url(#lens)" stroke="#3474c4" stroke-width="1.2"/>
<path d="M319.5 7 H326.5" stroke="#4a8eb2" stroke-width="2"/>
<path d="M323 3.7 V10.3" stroke="#4a8eb2" stroke-width="2"/>
<path d="M354.9 10.4 L360.7 16.3" stroke="#a87a10" stroke-width="3.4" stroke-linecap="butt"/><path d="M355.1 10.6 L360.4 16" stroke="#f2d84a" stroke-width="1.8" stroke-linecap="butt"/>
<circle cx="351.1" cy="6.9" r="5.8" fill="url(#lens)" stroke="#3474c4" stroke-width="1.2"/>
<path d="M347.6 7 H354.6" stroke="#4a8eb2" stroke-width="2"/>
<rect x="373" y="1" width="8" height="8" fill="url(#grb)"/>
<rect x="374.2" y="4.2" width="5.8" height="3.6" fill="#fff"/><rect x="374" y="2" width="0.9" height="0.9" fill="#cfe6ff"/>
<rect x="375.2" y="5" width="3.6" height="0.9" fill="#3a9a2a" opacity="0.55"/>
<rect x="381" y="1" width="8" height="8" fill="url(#blb)"/>
<rect x="382.2" y="4.2" width="5.8" height="3.6" fill="#fff"/><rect x="382" y="2" width="0.9" height="0.9" fill="#cfe6ff"/>
<rect x="383.2" y="5" width="3.6" height="0.9" fill="#3058d0" opacity="0.55"/>
<rect x="373" y="9" width="8" height="8" fill="url(#blb)"/>
<rect x="374.2" y="12.2" width="5.8" height="3.6" fill="#fff"/><rect x="374" y="10" width="0.9" height="0.9" fill="#cfe6ff"/>
<rect x="375.2" y="13" width="3.6" height="0.9" fill="#3058d0" opacity="0.55"/>
<rect x="381" y="9" width="8" height="8" fill="url(#grb)"/>
<rect x="382.2" y="12.2" width="5.8" height="3.6" fill="#fff"/><rect x="382" y="10" width="0.9" height="0.9" fill="#cfe6ff"/>
<rect x="383.2" y="13" width="3.6" height="0.9" fill="#3a9a2a" opacity="0.55"/>
<rect x="398" y="0" width="1" height="19" fill="#a8a8a8" shape-rendering="crispEdges"/>
<rect x="403" y="0" width="1" height="19" fill="#a8a8a8" shape-rendering="crispEdges"/>
<rect x="404" y="0" width="24" height="19" fill="url(#chk)" shape-rendering="crispEdges"/>
<g stroke="#505050" stroke-width="1.1" fill="#505050"><path d="M411.4 4 V16.5" fill="none"/><path d="M409 14.6 H421.9" fill="none"/><path d="M411.4 2.6 l-1.8 2.6 h3.6 Z" stroke="none"/><path d="M423.2 14.6 l-2.6 -1.8 v3.6 Z" stroke="none"/></g>
<polygon points="416,5 416,12 420,8.5" fill="#7be07b" stroke="#149414" stroke-width="1"/>
<rect x="431" y="0" width="1" height="19" fill="#a8a8a8" shape-rendering="crispEdges"/>
<rect x="432" y="0" width="24" height="19" fill="url(#chk)" shape-rendering="crispEdges"/>
<g stroke="#505050" stroke-width="1.1" fill="#505050"><path d="M439.5 4 V16.5" fill="none"/><path d="M437.1 14.6 H450" fill="none"/><path d="M439.5 2.6 l-1.8 2.6 h3.6 Z" stroke="none"/><path d="M451.3 14.6 l-2.6 -1.8 v3.6 Z" stroke="none"/></g>
<path d="M445.6 3 V13" stroke="#1c6fb0" stroke-width="1.2"/><path d="M446.6 8.5 H451" stroke="#e05a10" stroke-width="1.1"/><polygon points="446.4,8.5 449.4,6.2 449.4,10.8" fill="#e05a10"/>
<rect x="460" y="0" width="1" height="19" fill="#a8a8a8" shape-rendering="crispEdges"/>
<path d="M470.7 1.7 H478.4 L481.4 4.8 V14.3 H470.7 Z" fill="#fdfdfd" stroke="#737373" stroke-width="0.95" stroke-linejoin="round"/><path d="M478.4 1.7 V4.8 H481.4" fill="#d8d8d8" stroke="#858585" stroke-width="0.8"/>
<path d="M475.6 4 Q473.5 4.2 473.5 6 V11.4 M472.6 7.4 H475.4" stroke="#3a3420" stroke-width="0.9" fill="none"/>
<path d="M478.4 7.5 H481.4 V11.6 H485.4 V14.3 H481.4 V18.6 H478.4 V14.3 H474.5 V11.6 H478.4 Z" fill="url(#plus)" stroke="#0a8a0a" stroke-width="0.9" stroke-linejoin="miter"/>
<polygon points="492,8 497.4,8 494.7,11" fill="#000"/>
<circle cx="516" cy="9" r="8.1" fill="url(#clk)"/><circle cx="516" cy="9" r="5.5" fill="#f2f5f8"/><circle cx="516" cy="9" r="5.5" fill="none" stroke="#0d4a9c" stroke-width="0.5" opacity="0.6"/>
<path d="M515.6 5.6 V9.3 H518.6" stroke="#111" stroke-width="1.2" fill="none"/><path d="M516 12.4 v0.9 M512 9 h0.9 M519.4 9 h0.8 M516 4.6 v0.7 M513.2 6.2 l0.5 0.5 M518.8 6.2 l-0.5 0.5 M513.2 11.8 l0.5 -0.5 M518.8 11.8 l-0.5 -0.5" stroke="#8aa8c8" stroke-width="0.7"/>
<polygon points="530.6,8 536,8 533.3,11" fill="#000"/>
<rect x="547.6" y="2.4" width="15.4" height="13" fill="#fff" stroke="#3a72c8" stroke-width="1"/><rect x="548" y="2.8" width="14.6" height="2.2" fill="#4a8ae0"/><path d="M548 9.6 H562.6" stroke="#6a9ae0" stroke-width="0.8"/>
<path d="M549.5 8.2 L551.5 8 L553.5 6.6 L555.5 7.4 L557.5 6.8 L559.5 6.4 L561 6.2" stroke="#a02810" stroke-width="1.1" fill="none"/>
<path d="M549.8 13.4 L552 12.4 L554 13.2 L556 12.2 L558 11 L559.6 12.6 L561 13.4" stroke="#1a9a1a" stroke-width="1.1" fill="none"/>
<polygon points="569.8,8 575.2,8 572.5,11" fill="#000"/>
<rect x="581" y="0" width="1" height="21" fill="#a0a0a0" shape-rendering="crispEdges"/><rect x="582" y="0" width="1" height="21" fill="#fff" shape-rendering="crispEdges"/>
<rect x="585" y="1" width="3" height="1" fill="#a6a6a6" shape-rendering="crispEdges"/>
<rect x="585" y="3" width="3" height="1" fill="#a6a6a6" shape-rendering="crispEdges"/>
<rect x="585" y="5" width="3" height="1" fill="#a6a6a6" shape-rendering="crispEdges"/>
<rect x="585" y="7" width="3" height="1" fill="#a6a6a6" shape-rendering="crispEdges"/>
<rect x="585" y="9" width="3" height="1" fill="#a6a6a6" shape-rendering="crispEdges"/>
<rect x="585" y="11" width="3" height="1" fill="#a6a6a6" shape-rendering="crispEdges"/>
<rect x="585" y="13" width="3" height="1" fill="#a6a6a6" shape-rendering="crispEdges"/>
<rect x="585" y="15" width="3" height="1" fill="#a6a6a6" shape-rendering="crispEdges"/>
<rect x="585" y="17" width="3" height="1" fill="#a6a6a6" shape-rendering="crispEdges"/>
<rect x="591" y="0" width="1" height="19" fill="#a8a8a8" shape-rendering="crispEdges"/>
<rect x="592" y="0" width="24" height="19" fill="url(#chk)" shape-rendering="crispEdges"/>
<polygon points="599.3,2 599.3,13.6 602.2,11 604.4,15.8 606.4,14.9 604.2,10.2 607.6,10.2" fill="#4c4c4c"/>
<path d="M631.5 2.2 V8.4 M631.5 10.4 V17 M624 9.4 H630.5 M632.5 9.4 H639" stroke="#3c3c3c" stroke-width="1.1" fill="none"/>
<rect x="648" y="0" width="1" height="19" fill="#a8a8a8" shape-rendering="crispEdges"/>
<path d="M665.5 3 V16" stroke="#484848" stroke-width="1"/>
<path d="M688.2 9.5 H700" stroke="#484848" stroke-width="1"/>
<path d="M715.6 16 L728 4" stroke="#484848" stroke-width="0.95"/>
<g stroke="#3c3c3c" stroke-width="0.9" fill="none"><path d="M741.6 11 L750.6 2.6"/><path d="M743.6 15 L756 4.6"/><path d="M747.2 15.6 L756.6 7.4"/><path d="M746 7 L745 14.6 M749.4 4.6 L748.6 13 M753.6 1.4 L752.4 9.6"/></g>
<path d="M757 13.7 H753.7 V17.3 H757 M753.7 15.5 H756.6" stroke="#3c3c3c" stroke-width="1.25" fill="none"/>
<path d="M771 2.5 H784.2" stroke="#3c3c3c" stroke-width="1" stroke-dasharray="1 1" fill="none" shape-rendering="crispEdges"/>
<path d="M771 5.5 H784.2" stroke="#3c3c3c" stroke-width="1" stroke-dasharray="1 1" fill="none" shape-rendering="crispEdges"/>
<path d="M771 9.5 H784.2" stroke="#3c3c3c" stroke-width="1" stroke-dasharray="1 1" fill="none" shape-rendering="crispEdges"/>
<path d="M771 13.5 H780" stroke="#3c3c3c" stroke-width="1" stroke-dasharray="1 1" fill="none" shape-rendering="crispEdges"/>
<path d="M784.9 13.7 H781.7 V17.9 M781.7 15.7 H784.4" stroke="#3c3c3c" stroke-width="1.25" fill="none"/>
<path d="M802.6 14 L805.4 5.2 H806.2 L809 14 M803.7 11.4 H807.9" stroke="#444" stroke-width="1.45" fill="none" stroke-linejoin="miter"/>
<rect x="828.5" y="3.5" width="11" height="12" fill="none" stroke="#3c3c3c" stroke-width="1" stroke-dasharray="1 1" shape-rendering="crispEdges"/><rect x="827.6" y="2.4" width="1.8" height="1.2" fill="#3c3c3c"/>
<path d="M830.4 6.8 H837.8 M834.1 6.8 V13.8" stroke="#4a4a4a" stroke-width="1.5" fill="none"/>
<polygon points="858.4,2.8 862.2,6.2 860.4,6.2 860.4,7.7 856.4,7.7 856.4,6.2 854.6,6.2" fill="#3c3c3c"/><polygon points="865.6,16.3 869.4,12.9 867.6,12.9 867.6,11.4 863.6,11.4 863.6,12.9 861.8,12.9" fill="#3c3c3c"/><path d="M857.4 10.4 L859.6 12.6 L864 7.4" stroke="#3c3c3c" stroke-width="1.3" fill="none"/>
<polygon points="875.7,8 881.1,8 878.4,11" fill="#000"/>
<rect x="887" y="0" width="1" height="21" fill="#a0a0a0" shape-rendering="crispEdges"/><rect x="888" y="0" width="1" height="21" fill="#fff" shape-rendering="crispEdges"/>
<rect x="891" y="1" width="3" height="1" fill="#a6a6a6" shape-rendering="crispEdges"/>
<rect x="891" y="3" width="3" height="1" fill="#a6a6a6" shape-rendering="crispEdges"/>
<rect x="891" y="5" width="3" height="1" fill="#a6a6a6" shape-rendering="crispEdges"/>
<rect x="891" y="7" width="3" height="1" fill="#a6a6a6" shape-rendering="crispEdges"/>
<rect x="891" y="9" width="3" height="1" fill="#a6a6a6" shape-rendering="crispEdges"/>
<rect x="891" y="11" width="3" height="1" fill="#a6a6a6" shape-rendering="crispEdges"/>
<rect x="891" y="13" width="3" height="1" fill="#a6a6a6" shape-rendering="crispEdges"/>
<rect x="891" y="15" width="3" height="1" fill="#a6a6a6" shape-rendering="crispEdges"/>
<rect x="891" y="17" width="3" height="1" fill="#a6a6a6" shape-rendering="crispEdges"/>
<rect x="1037" y="0" width="1" height="19" fill="#a8a8a8" shape-rendering="crispEdges"/>
<rect x="1038" y="0" width="24" height="19" fill="url(#chk)" shape-rendering="crispEdges"/>
<text x="902.7" y="13" font-family="Liberation Sans,sans-serif" font-size="9.8" fill="#383838" stroke="#383838" stroke-width="0.2" textLength="12.3" lengthAdjust="spacingAndGlyphs">M1</text>
<text x="930.7" y="13" font-family="Liberation Sans,sans-serif" font-size="9.8" fill="#383838" stroke="#383838" stroke-width="0.2" textLength="12.4" lengthAdjust="spacingAndGlyphs">M5</text>
<text x="956.5" y="13" font-family="Liberation Sans,sans-serif" font-size="9.8" fill="#383838" stroke="#383838" stroke-width="0.2" textLength="17.9" lengthAdjust="spacingAndGlyphs">M15</text>
<text x="984.3" y="13" font-family="Liberation Sans,sans-serif" font-size="9.8" fill="#383838" stroke="#383838" stroke-width="0.2" textLength="17.8" lengthAdjust="spacingAndGlyphs">M30</text>
<text x="1015.6" y="13" font-family="Liberation Sans,sans-serif" font-size="9.8" fill="#383838" stroke="#383838" stroke-width="0.2" textLength="11.7" lengthAdjust="spacingAndGlyphs">H1</text>
<text x="1042.9" y="13" font-family="Liberation Sans,sans-serif" font-size="9.8" fill="#383838" stroke="#383838" stroke-width="0.2" textLength="11.9" lengthAdjust="spacingAndGlyphs">H4</text>
<text x="1071.5" y="13" font-family="Liberation Sans,sans-serif" font-size="9.8" fill="#383838" stroke="#383838" stroke-width="0.2" textLength="11.9" lengthAdjust="spacingAndGlyphs">D1</text>
<text x="1099.3" y="13" font-family="Liberation Sans,sans-serif" font-size="9.8" fill="#383838" stroke="#383838" stroke-width="0.2" textLength="13.9" lengthAdjust="spacingAndGlyphs">W1</text>
<text x="1125.7" y="13" font-family="Liberation Sans,sans-serif" font-size="9.8" fill="#383838" stroke="#383838" stroke-width="0.2" textLength="14.6" lengthAdjust="spacingAndGlyphs">MN</text>
<rect x="1148" y="0" width="1" height="21" fill="#a0a0a0" shape-rendering="crispEdges"/><rect x="1149" y="0" width="1" height="21" fill="#fff" shape-rendering="crispEdges"/>
<path d="M1615.2 9.6 L1611 14" stroke="#1c50c8" stroke-width="2.2" stroke-linecap="round"/><circle cx="1618.7" cy="6.4" r="4" fill="#f6f8ff" stroke="#1c50c8" stroke-width="1.4"/>
<path d="M1641.2 6.2 C1645 6.2 1647.4 8.2 1647.4 10.9 C1647.4 13.6 1645 15.4 1641.6 15.4 L1640.2 15.3 L1638.4 17.6 L1638.2 14.8 C1636.2 14 1635.1 12.6 1635.1 10.9 C1635.1 8.2 1637.6 6.2 1641.2 6.2 Z" fill="#e6e7f1" stroke="#aaa" stroke-width="0.8"/>
<circle cx="1649.6" cy="6.4" r="8.3" fill="url(#redb)"/>
<text x="1645.4" y="11.2" font-family="Liberation Sans,sans-serif" font-size="12.5" font-weight="bold" fill="#fff">1</text>
</g>
</svg>
<div class="t" style="left:1622px;top:320.5px;color:#fff;font-size:10px;transform:scaleX(0.9130);">0.95809</div>
<div class="t" style="left:1622px;top:364.5px;color:#fff;font-size:10px;transform:scaleX(0.9130);">0.95614</div>
<div class="t" style="left:1622px;top:415.5px;color:#fff;font-size:10px;transform:scaleX(0.9130);">0.95387</div>
<div class="t" style="left:1622px;top:491.5px;color:#fff;font-size:10px;transform:scaleX(0.9130);">0.95045</div>
<div class="t" style="left:1622px;top:543.5px;color:#fff;font-size:10px;transform:scaleX(0.9130);">0.94817</div>
<div class="t" style="left:4px;top:821.5px;color:#000;font-size:10px;transform:scaleX(0.9090);">21&nbsp;Jul&nbsp;2022</div>
<div class="t" style="left:68px;top:821.5px;color:#000;font-size:10px;transform:scaleX(0.9085);">22&nbsp;Jul&nbsp;12:00</div>
<div class="t" style="left:132px;top:821.5px;color:#000;font-size:10px;transform:scaleX(0.9085);">25&nbsp;Jul&nbsp;04:00</div>
<div class="t" style="left:196px;top:821.5px;color:#000;font-size:10px;transform:scaleX(0.9085);">25&nbsp;Jul&nbsp;20:00</div>
<div class="t" style="left:260px;top:821.5px;color:#000;font-size:10px;transform:scaleX(0.9085);">26&nbsp;Jul&nbsp;12:00</div>
<div class="t" style="left:324px;top:821.5px;color:#000;font-size:10px;transform:scaleX(0.9085);">27&nbsp;Jul&nbsp;04:00</div>
<div class="t" style="left:388px;top:821.5px;color:#000;font-size:10px;transform:scaleX(0.9085);">27&nbsp;Jul&nbsp;20:00</div>
<div class="t" style="left:452px;top:821.5px;color:#000;font-size:10px;transform:scaleX(0.9085);">28&nbsp;Jul&nbsp;12:00</div>
<div class="t" style="left:516px;top:821.5px;color:#000;font-size:10px;transform:scaleX(0.9085);">29&nbsp;Jul&nbsp;04:00</div>
<div class="t" style="left:580px;top:821.5px;color:#000;font-size:10px;transform:scaleX(0.9085);">31&nbsp;Jul&nbsp;23:00</div>
<div class="t" style="left:644px;top:821.5px;color:#000;font-size:10px;transform:scaleX(0.9461);">1&nbsp;Aug&nbsp;12:00</div>
<div class="t" style="left:708px;top:821.5px;color:#000;font-size:10px;transform:scaleX(0.9461);">2&nbsp;Aug&nbsp;04:00</div>
<div class="t" style="left:772px;top:821.5px;color:#000;font-size:10px;transform:scaleX(0.9461);">2&nbsp;Aug&nbsp;20:00</div>
<div class="t" style="left:836px;top:821.5px;color:#000;font-size:10px;transform:scaleX(0.9461);">3&nbsp;Aug&nbsp;12:00</div>
<div class="t" style="left:900px;top:821.5px;color:#000;font-size:10px;transform:scaleX(0.9461);">4&nbsp;Aug&nbsp;04:00</div>
<div class="t" style="left:964px;top:821.5px;color:#000;font-size:10px;transform:scaleX(0.9461);">4&nbsp;Aug&nbsp;20:00</div>
<div class="t" style="left:1028px;top:821.5px;color:#000;font-size:10px;transform:scaleX(0.9461);">5&nbsp;Aug&nbsp;12:00</div>
<div class="t" style="left:1092px;top:821.5px;color:#000;font-size:10px;transform:scaleX(0.9461);">8&nbsp;Aug&nbsp;04:00</div>
<div class="t" style="left:1156px;top:821.5px;color:#000;font-size:10px;transform:scaleX(0.9461);">8&nbsp;Aug&nbsp;20:00</div>
<div class="t" style="left:1220px;top:821.5px;color:#000;font-size:10px;transform:scaleX(0.9461);">9&nbsp;Aug&nbsp;12:00</div>
<div class="t" style="left:1622px;top:53.5px;color:#000;font-size:10px;transform:scaleX(0.9130);">0.97005</div>
<div class="t" style="left:1622px;top:86.5px;color:#000;font-size:10px;transform:scaleX(0.9130);">0.96860</div>
<div class="t" style="left:1622px;top:119.5px;color:#000;font-size:10px;transform:scaleX(0.9130);">0.96710</div>
<div class="t" style="left:1622px;top:152.5px;color:#000;font-size:10px;transform:scaleX(0.9130);">0.96565</div>
<div class="t" style="left:1622px;top:185.5px;color:#000;font-size:10px;transform:scaleX(0.9130);">0.96415</div>
<div class="t" style="left:1622px;top:218.5px;color:#000;font-size:10px;transform:scaleX(0.9130);">0.96270</div>
<div class="t" style="left:1622px;top:251.5px;color:#000;font-size:10px;transform:scaleX(0.9130);">0.96120</div>
<div class="t" style="left:1622px;top:285.5px;color:#000;font-size:10px;transform:scaleX(0.9130);">0.95970</div>
<div class="t" style="left:1622px;top:351.5px;color:#000;font-size:10px;transform:scaleX(0.9130);">0.95675</div>
<div class="t" style="left:1622px;top:384.5px;color:#000;font-size:10px;transform:scaleX(0.9130);">0.95530</div>
<div class="t" style="left:1622px;top:450.5px;color:#000;font-size:10px;transform:scaleX(0.9130);">0.95235</div>
<div class="t" style="left:1622px;top:483.5px;color:#000;font-size:10px;transform:scaleX(0.9130);">0.95085</div>
<div class="t" style="left:1622px;top:517.5px;color:#000;font-size:10px;transform:scaleX(0.9130);">0.94935</div>
<div class="t" style="left:1622px;top:550.5px;color:#000;font-size:10px;transform:scaleX(0.9130);">0.94790</div>
<div class="t" style="left:1622px;top:583.5px;color:#000;font-size:10px;transform:scaleX(0.9130);">0.94640</div>
<div class="t" style="left:1622px;top:440.5px;color:#fff;font-size:10px;transform:scaleX(0.9130);">0.95278</div>
<div class="t" style="left:1620px;top:595.5px;color:#000;font-size:10px;transform:scaleX(0.8992);">0.00161</div>
<div class="t" style="left:1620px;top:624.5px;color:#000;font-size:10px;transform:scaleX(0.9095);">0.00</div>
<div class="t" style="left:1620px;top:700.8px;color:#000;font-size:10px;transform:scaleX(0.9247);">-0.00391</div>
<div class="t" style="left:1620px;top:717px;color:#000;font-size:10px;transform:scaleX(0.8991);">100</div>
<div class="t" style="left:1620px;top:731.8px;color:#000;font-size:10px;transform:scaleX(0.8991);">80</div>
<div class="t" style="left:1620px;top:761.7px;color:#000;font-size:10px;transform:scaleX(0.8991);">50</div>
<div class="t" style="left:1620px;top:796.6px;color:#000;font-size:10px;transform:scaleX(0.8991);">15</div>
<div class="t" style="left:1620px;top:805.6px;color:#000;font-size:10px;">0</div>
<div class="t" style="left:21px;top:27.5px;color:#000;font-size:10px;transform:scaleX(0.9413);">USDCHF-,H4</div>
<div class="t" style="left:84.4px;top:27.5px;color:#000;font-size:10px;transform:scaleX(0.9175);">0.95377&nbsp;0.95384&nbsp;0.95278&nbsp;0.95278</div>
<div class="t" style="left:9.3px;top:597.5px;color:#000;font-size:10px;transform:scaleX(0.9458);">MACD(12,26,9)</div>
<div class="t" style="left:79px;top:597.5px;color:#000;font-size:10px;transform:scaleX(0.9087);">-0.001109&nbsp;-0.000488</div>
<div class="t" style="left:9.3px;top:718.5px;color:#000;font-size:10px;transform:scaleX(0.9114);">RSI(14)</div>
<div class="t" style="left:44px;top:718.5px;color:#000;font-size:10px;transform:scaleX(0.8964);">41.9272</div>
</body></html>
